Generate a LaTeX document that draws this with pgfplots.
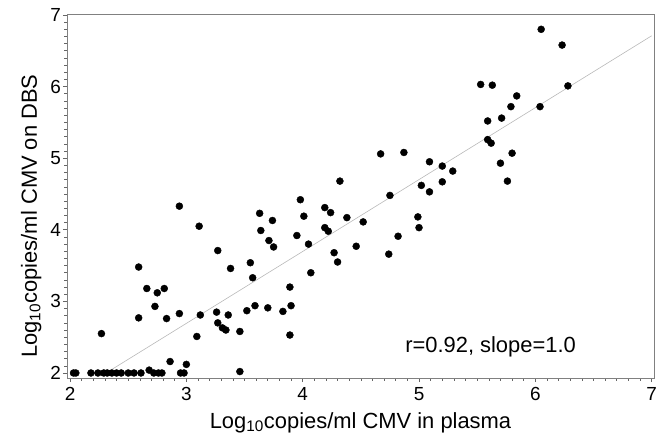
\documentclass[border=0pt]{standalone}
\usepackage{fontspec}
\setmainfont{Liberation Sans}
\usepackage{pgfplots}
\pgfplotsset{compat=1.18}
\begin{document}
\begin{tikzpicture}
\begin{axis}[
  at={(0,0)}, anchor=south west,
  scale only axis,
  width=587bp, height=364bp,
  xmin=1.974, xmax=7.02, ymin=1.93, ymax=7.014,
  xtick={2,3,4,5,6,7}, ytick={2,3,4,5,6,7},
  minor tick num=9,
  tick align=outside,
  xtick pos=bottom, ytick pos=left,
  major tick length=4bp, minor tick length=2.5bp,
  axis line style={draw=black!50, line width=0.9pt},
  every tick/.style={draw=black!60, line width=0.6pt},
  /pgf/number format/assume math mode=true,
  tick label style={font=\fontsize{19}{22}\selectfont, inner sep=1bp},
  xticklabel style={yshift=-4bp},
  yticklabel style={xshift=-1bp},
  xlabel={Log\textsubscript{10}copies/ml CMV in plasma},
  ylabel={Log\textsubscript{10}copies/ml CMV on DBS},
  every axis x label/.style={at={(axis description cs:0.5,-0.0934)}, anchor=north, font=\fontsize{22}{26}\selectfont, inner sep=0pt},
  every axis y label/.style={at={(axis description cs:-0.0434,0.445)}, anchor=south, rotate=90, font=\fontsize{22}{26}\selectfont, inner sep=0pt},
  clip=false,
]
\addplot[draw=black!28, line width=0.6pt] coordinates {(2.31,2.0) (7.0,6.71)};
\addplot[only marks, mark=*, mark size=3.5bp, mark options={fill=black, draw=black}] coordinates {
(2.03,2.0) (2.05,2.0) (2.18,2.0) (2.24,2.0) (2.29,2.0) (2.32,2.0) (2.36,2.0) (2.40,2.0)
(2.44,2.0) (2.50,2.0) (2.55,2.0) (2.61,2.0) (2.68,2.04) (2.72,2.0) (2.76,2.0) (2.79,2.0)
(2.95,2.0) (2.98,2.0) (3.46,2.02)
(2.27,2.55) (2.59,2.77) (2.59,3.48) (2.66,3.18) (2.73,2.93) (2.75,3.12) (2.81,3.18)
(2.83,2.76) (2.86,2.16) (2.94,2.83) (2.94,4.33) (3.00,2.12) (3.09,2.51) (3.11,4.05)
(3.12,2.81) (3.26,2.85) (3.27,2.70) (3.27,3.71) (3.31,2.63) (3.34,2.60) (3.36,2.81)
(3.38,3.46) (3.46,2.58) (3.52,2.87) (3.55,3.54) (3.57,3.33) (3.59,2.94) (3.63,4.23)
(3.64,3.99) (3.70,2.91) (3.71,3.85) (3.74,4.13) (3.75,3.76) (3.83,2.86) (3.89,3.20)
(3.89,2.53) (3.90,2.94) (3.95,3.92) (3.98,4.42) (4.01,4.19) (4.05,3.80) (4.07,3.40)
(4.19,4.31) (4.19,4.03) (4.22,3.98) (4.24,4.24) (4.27,3.68) (4.30,3.55) (4.32,4.68)
(4.38,4.17) (4.46,3.77) (4.52,4.11) (4.67,5.06) (4.74,3.66) (4.75,4.48) (4.82,3.91)
(4.87,5.08) (4.99,4.18) (5.00,4.03) (5.02,4.62) (5.09,4.95) (5.09,4.53) (5.20,4.89)
(5.20,4.67) (5.29,4.82) (5.53,6.03) (5.59,5.52) (5.59,5.26) (5.62,5.21) (5.63,6.02)
(5.70,4.93) (5.71,5.56) (5.76,4.68) (5.79,5.72) (5.80,5.07) (5.84,5.87) (6.04,5.72)
(6.05,6.80) (6.23,6.58) (6.28,6.01)
};
\node[anchor=west, inner sep=0pt, font=\fontsize{22}{26}\selectfont] at (axis cs:4.88,2.36) {r=0.92, slope=1.0};
\end{axis}
\pgfresetboundingbox
\path (-67bp,-57bp) rectangle (591bp,378bp);
\end{tikzpicture}
\end{document}
